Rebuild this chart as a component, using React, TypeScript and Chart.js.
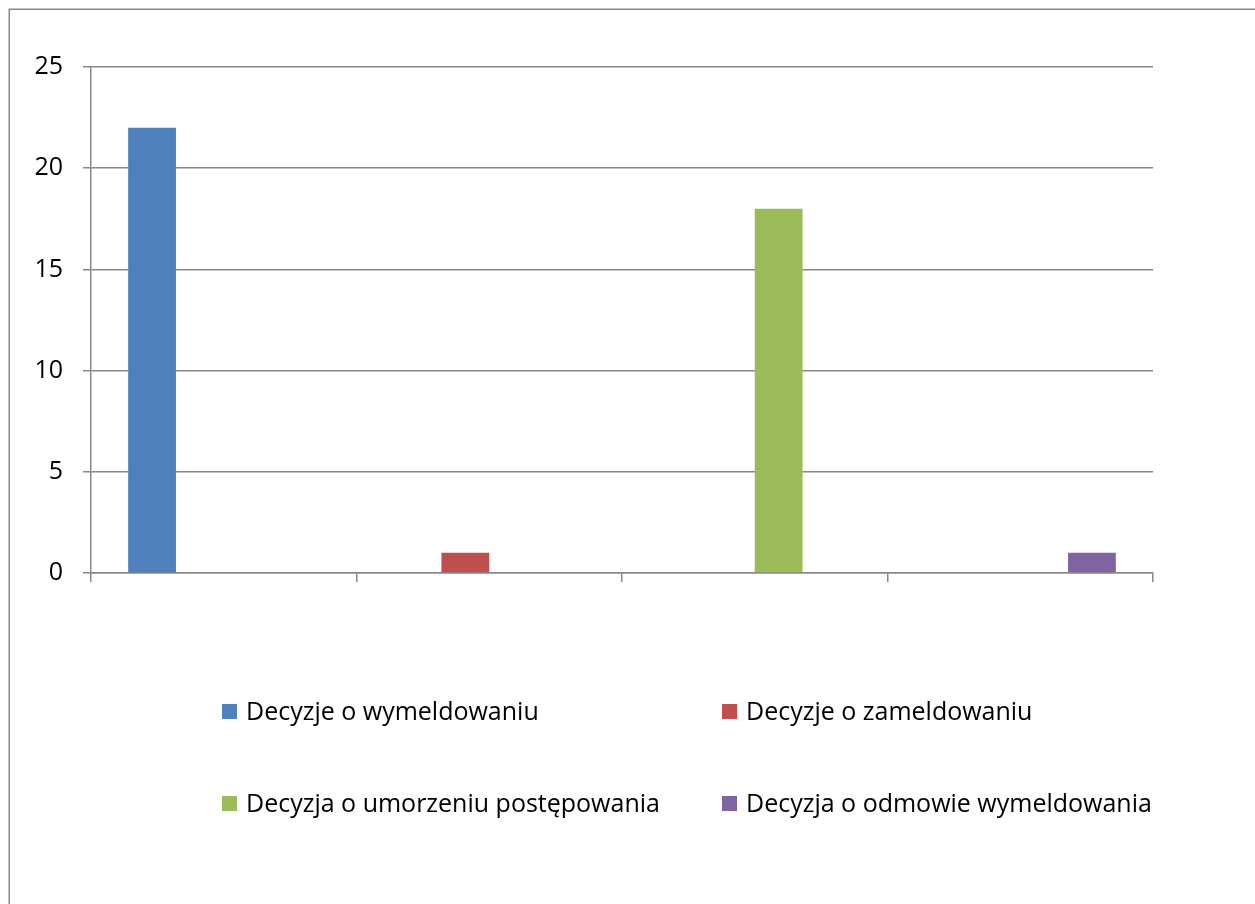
import React, { useEffect, useRef } from "react";
import { Chart, registerables } from "chart.js";

Chart.register(...registerables);

const categories = ["", "", "", ""];
const seriesNames = [
  "Decyzje o wymeldowaniu",
  "Decyzje o zameldowaniu",
  "Decyzja o umorzeniu postępowania",
  "Decyzja o odmowie wymeldowania",
];
const wymeldowanie = [22, null, null, null];
const zameldowanie = [null, 1, null, null];
const umorzenie = [null, null, 18, null];
const odmowa = [null, null, null, 1];
const seriesColors = ["#4F81BD", "#C0504D", "#9BBB59", "#8064A2"];
const yMin = 0;
const yMax = 25;
const yStep = 5;

const FONT = "'Open Sans', 'Liberation Sans', sans-serif";
const AXIS_COLOR = "#878787";

const framePlugin = {
  id: "frame",
  beforeDraw(chart: any) {
    const ctx = chart.ctx;
    ctx.save();
    ctx.fillStyle = "#ffffff";
    ctx.fillRect(0, 0, chart.width, chart.height);
    ctx.strokeStyle = "#8a8a8a";
    ctx.lineWidth = 1.5;
    ctx.strokeRect(9.25, 9.25, chart.width + 50, chart.height + 50);
    ctx.restore();
  },
};

const legendGrid = {
  cols: [222, 722],
  rows: [704, 796],
  box: 15,
  gap: 24,
};

const legendPlugin = {
  id: "gridLegend",
  afterDraw(chart: any) {
    const ctx = chart.ctx;
    ctx.save();
    ctx.font = `25px ${FONT}`;
    ctx.textBaseline = "middle";
    ctx.textAlign = "left";
    chart.data.datasets.forEach((ds: any, i: number) => {
      const x = legendGrid.cols[i % 2];
      const y = legendGrid.rows[Math.floor(i / 2)];
      ctx.fillStyle = ds.backgroundColor;
      ctx.fillRect(x, y, legendGrid.box, legendGrid.box);
      ctx.fillStyle = "#000000";
      ctx.fillText(ds.label, x + legendGrid.gap, y + legendGrid.box / 2 + 1);
    });
    ctx.restore();
  },
};

export default function App() {
  const canvasRef = useRef<HTMLCanvasElement | null>(null);

  useEffect(() => {
    if (!canvasRef.current) return;
    const seriesData = [wymeldowanie, zameldowanie, umorzenie, odmowa];
    const chart = new Chart(canvasRef.current, {
      type: "bar",
      data: {
        labels: categories,
        datasets: seriesData.map((d, i) => ({
          label: seriesNames[i],
          data: d,
          backgroundColor: seriesColors[i],
          borderWidth: 0,
          categoryPercentage: 0.72,
          barPercentage: 1,
        })),
      },
      options: {
        animation: false,
        responsive: false,
        layout: { padding: { left: 0, top: 67, right: 102, bottom: 321 } },
        plugins: {
          legend: { display: false },
          tooltip: { enabled: false },
          title: { display: false },
        },
        scales: {
          x: {
            type: "category",
            grid: {
              offset: true,
              drawOnChartArea: false,
              drawTicks: true,
              tickLength: 9,
              color: AXIS_COLOR,
              lineWidth: 1.5,
            },
            border: { display: true, color: AXIS_COLOR, width: 1.5 },
            ticks: { display: true, padding: 0, font: { family: FONT, size: 1 } },
            afterFit(scale: any) {
              scale.height = 10;
            },
          },
          y: {
            min: yMin,
            max: yMax,
            ticks: {
              stepSize: yStep,
              color: "#000000",
              padding: 20,
              font: { family: FONT, size: 25 },
            },
            grid: {
              color: AXIS_COLOR,
              lineWidth: 1.5,
              drawTicks: true,
              tickLength: 8,
            },
            border: { display: true, color: AXIS_COLOR, width: 1.5 },
            afterFit(scale: any) {
              scale.width = 91;
            },
          },
        },
      } as any,
      plugins: [framePlugin, legendPlugin],
    });
    return () => chart.destroy();
  }, []);

  return (
    <div style={{ position: "fixed", left: 0, top: 0, width: 1255, height: 904, background: "#fff" }}>
      <canvas ref={canvasRef} width={1255} height={904} style={{ width: 1255, height: 904, display: "block" }} />
    </div>
  );
}
